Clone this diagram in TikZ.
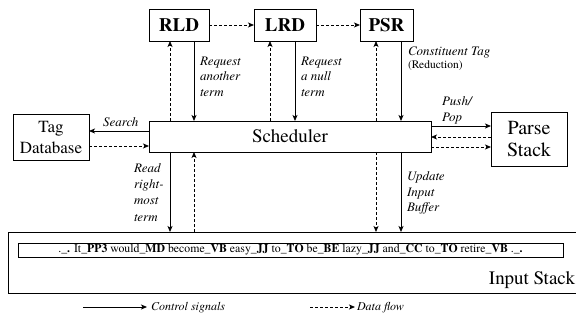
\documentclass[tikz,border=0pt]{standalone}
\usepackage{fontspec}
\setmainfont{texgyretermes}[Extension=.otf, UprightFont=*-regular, BoldFont=*-bold, ItalicFont=*-italic, BoldItalicFont=*-bolditalic]
\usetikzlibrary{arrows.meta,calc}
\begin{document}
\begin{tikzpicture}[x=1pt,y=-1pt,
  every node/.style={inner sep=0pt, outer sep=0pt},
  box/.style={draw, line width=0.8pt, align=center},
  bigbold/.style={font=\bfseries\fontsize{19}{20}\selectfont},
  big/.style={font=\fontsize{19}{20}\selectfont},
  ctrl/.style={line width=0.8pt, -{Stealth[length=6pt,width=5pt,inset=1.5pt]}},
  flow/.style={ctrl, dash pattern=on 3pt off 2pt},
  lab/.style={font=\fontsize{13}{15.5}\selectfont\itshape, align=left, anchor=north west},
]
\useasboundingbox (0,0) rectangle (576,326);
% boxes
\node[box, bigbold, minimum width=60pt, minimum height=32pt] (rld) at (179,25) {RLD};
\node[box, bigbold, minimum width=62pt, minimum height=32pt] (lrd) at (285,25) {LRD};
\node[box, bigbold, minimum width=53pt, minimum height=32pt] (psr) at (386.5,25) {PSR};
\node[box, big, minimum width=282pt, minimum height=31pt] (sched) at (290,136.5) {Scheduler};
\node[box, font=\fontsize{17}{21}\selectfont, minimum width=76pt, minimum height=46pt] (tag) at (51,137) {Tag\\Database};
\node[box, font=\fontsize{20}{22}\selectfont, minimum width=76pt, minimum height=54pt] (parse) at (529,139) {Parse\\Stack};
\node[minimum width=568pt, minimum height=61pt] (instack) at (292,262.5) {};
\draw[line width=0.8pt] (instack.north east) -- (instack.north west) -- (instack.south west) -- (instack.south east);
\node[box, font=\fontsize{11.8}{12}\selectfont, minimum width=545pt, minimum height=14pt] (buffer) at (290.5,250)
  {.\_\textbf{.} It\_\textbf{PP3} would\_\textbf{MD} become\_\textbf{VB} easy\_\textbf{JJ} to\_\textbf{TO} be\_\textbf{BE} lazy\_\textbf{JJ} and\_\textbf{CC} to\_\textbf{TO} retire\_\textbf{VB} .\_\textbf{.}};
\node[big, anchor=base east] (instacklabel) at (575,284) {Input Stack};
% x positions
\coordinate (xa) at (170,0);
\coordinate (xb) at (194,0);
\coordinate (xc) at (270,0);
\coordinate (xd) at (295,0);
\coordinate (xe) at (376,0);
\coordinate (xf) at (401,0);
\coordinate (ya) at (0,131);
\coordinate (yb) at (0,146);
\coordinate (yc) at (0,126);
\coordinate (yd) at (0,137);
\coordinate (ye) at (0,147);
% top connectors
\draw[flow] (rld) -- (lrd);
\draw[flow] (lrd) -- (psr);
\draw[flow] (sched.north -| xa) -- (rld.south -| xa);
\draw[ctrl] (rld.south -| xb) -- (sched.north -| xb);
\draw[flow] (sched.north -| xc) -- (lrd.south -| xc);
\draw[ctrl] (lrd.south -| xd) -- (sched.north -| xd);
\draw[flow] (sched.north -| xe) -- (psr.south -| xe);
\draw[ctrl] (psr.south -| xf) -- (sched.north -| xf);
% side connectors
\draw[ctrl] (sched.west |- ya) -- (tag.east |- ya);
\draw[flow] (tag.east |- yb) -- (sched.west |- yb);
\draw[ctrl] (sched.east |- yc) -- (parse.west |- yc);
\draw[flow] (parse.west |- yd) -- (sched.east |- yd);
\draw[flow] (sched.east |- ye) -- (parse.west |- ye);
% bottom connectors
\draw[ctrl] (sched.south -| xa) -- (instack.north -| xa);
\draw[flow] (instack.north -| xb) -- (sched.south -| xb);
\draw[flow] (sched.south -| xe) -- (instack.north -| xe);
\draw[ctrl] (sched.south -| xf) -- (instack.north -| xf);
% labels
\node[lab] (l1) at (200,57) {Request\\another\\term};
\node[lab] (l2) at (301,57) {Request\\a null\\term};
\node[lab, font=\fontsize{13}{12.5}\selectfont\itshape] (l3) at (408,47) {Constituent Tag\\{\upshape\fontsize{11.5}{12}\selectfont (Reduction)}};
\node[lab] (l4) at (442,97) {Push/\\Pop};
\node[lab, anchor=base west] (l5) at (103,127) {Search};
\node[lab, font=\fontsize{13}{16.3}\selectfont\itshape] (l6) at (134,163.5) {Read\\right-\\most\\term};
\node[lab] (l7) at (407,172) {Update\\Input\\Buffer};
% legend
\coordinate (ls1) at (83,307);
\coordinate (le1) at (147,307);
\coordinate (ls2) at (310,307);
\coordinate (le2) at (355,307);
\draw[ctrl] (ls1) -- (le1);
\draw[flow] (ls2) -- (le2);
\node[lab, font=\fontsize{12}{14}\selectfont\itshape, anchor=base west] (leg1) at (151,310) {Control signals};
\node[lab, font=\fontsize{12}{14}\selectfont\itshape, anchor=base west] (leg2) at (357,310) {Data flow};
\end{tikzpicture}
\end{document}
